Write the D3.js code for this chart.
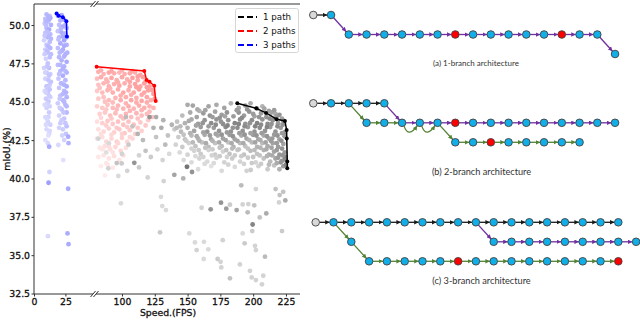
<!DOCTYPE html>
<html>
<head>
<meta charset="utf-8">
<script src="https://cdn.jsdelivr.net/npm/d3@7"></script>
<style>
  body { margin: 0; background: #fff; }
  svg { display: block; }
  .tick text { font-family: "DejaVu Sans"; font-size: 9.3px; fill: #111; stroke: #111; stroke-width: 0.3px; }
  .tick line { stroke: #333; }
</style>
</head>
<body>
<svg id="chart" width="640" height="321"></svg>
<script>
// [speed (FPS), mIoU (%), shade]
var threePaths = [
    [10,50.7,.4],[12.5,50.6,.3],[9,50.4,.35],[13,50.45,.5],[11,50.2,.3],[8.5,50.1,.25],[13.5,50.0,.45],
    [10,49.8,.4],[12,49.7,.5],[9,49.5,.3],[13,49.4,.35],[11,49.2,.45],[8,49.0,.2],[12.5,48.9,.35],
    [10,48.7,.3],[9,48.4,.25],[13,48.5,.4],[11,48.2,.3],[12.5,47.9,.35],[9.5,47.8,.2],[11,47.5,.3],
    [8,47.2,.2],[12,47.2,.35],[10,46.9,.3],[13,46.8,.25],[9,46.5,.2],[11.5,46.4,.3],[12.5,46.1,.25],
    [10,46.0,.35],[8.5,45.7,.15],[11,45.6,.3],[13,45.3,.2],[9.5,45.2,.25],[11.5,45.0,.3],[10,44.6,.2],
    [12,44.3,.25],[9,44.0,.15],[11,43.7,.2],[13,43.5,.2],[10,43.2,.15],[12,42.9,.2],[9,42.5,.1],
    [11,42.3,.15],[12.1,42.07,.5],[12.3,40.42,.2],[11.6,39.72,.6],[11.1,36.24,.15],
    [11.5,50.55,.45],[9.5,50.0,.35],[12,49.3,.4],[10.5,48.3,.35],[12,46.7,.3],[10.5,45.9,.25],
    [12.5,45.8,.3],[10.5,44.9,.2],[11.5,44.0,.2],[12.5,43.1,.15],
    [9.5,50.25,.4],[12,50.35,.45],[10.5,49.55,.35],[8.5,49.3,.3],[13.5,49.1,.4],[11.5,48.6,.4],
    [8.5,48.1,.25],[13.5,48.1,.35],[10.5,47.3,.3],[9,46.9,.2],[13.5,46.3,.3],[9.5,45.6,.2],[12,45.4,.25],
    [8.5,44.8,.15],[12.5,44.7,.2],[10,43.9,.15],[9.5,43.5,.15],[11.5,42.8,.1],
    [19,50.6,.4],[21,50.3,.45],[24,50.35,.5],[20,50.0,.35],[23,49.9,.5],[26,49.8,.45],[19,49.6,.3],
    [22,49.5,.5],[25,49.45,.45],[20,49.2,.4],[24,49.0,.55],[21,48.8,.5],[26,48.7,.45],[19,48.5,.35],
    [23,48.4,.5],[25,48.1,.45],[20,47.9,.4],[22,47.7,.45],[26,47.6,.5],[19,47.4,.35],[24,47.3,.45],
    [21,47.0,.4],[26,46.9,.45],[23,46.7,.5],[19.5,46.5,.3],[25,46.4,.4],[22,46.2,.45],[26,46.0,.5],
    [20,45.9,.3],[24,45.7,.4],[21,45.4,.35],[26,45.3,.45],[23,45.1,.4],[19,44.9,.25],[25,44.8,.4],
    [22,44.5,.35],[26,44.3,.4],[20,44.1,.2],[24,43.9,.3],[21,43.6,.25],[26,43.4,.35],[23,43.2,.25],
    [25.5,42.9,.3],[27.2,42.72,.5],[27.5,42.3,.45],[19.4,42.18,.15],[23.3,41.2,.1],[27.2,39.33,.5],
    [26.7,36.42,.5],[27.5,35.72,.5],
    [22,50.65,.5],[25,50.0,.45],[21.5,49.75,.4],[19.5,49.05,.35],[23,49.25,.5],[26,49.2,.5],[22,48.3,.45],
    [24,48.65,.5],[20.5,48.2,.4],[26.5,48.2,.45],[24,47.95,.45],[21,47.4,.4],[23,47.15,.45],[25,47.0,.4],
    [20,46.8,.35],[21.5,46.2,.4],[24,46.1,.45],[23,45.5,.4],[25.5,45.6,.45],[20.5,45.2,.3],[24,45.0,.4],
    [26,44.7,.4],[20.5,44.6,.25],[23.5,44.3,.3],[22,43.8,.25],[25,43.6,.3],[20,43.3,.2],[22.5,42.8,.2],
    [24,42.5,.2]
];

var twoPaths = [
    [82,46.95,.5],[86,46.8,.45],[90,46.9,.55],[94,46.85,.5],[98,46.9,.45],[102,46.8,.5],[106,46.85,.55],
    [110,46.9,.5],[114,46.75,.6],
    [81,46.5,.4],[84,46.6,.5],[88,46.45,.45],[92,46.55,.55],[96,46.4,.5],[100,46.6,.55],[104,46.45,.5],
    [108,46.55,.6],[112,46.4,.55],[116,46.6,.6],[118,46.3,.65],
    [82,46.1,.35],[86,46.2,.45],[90,46.0,.5],[94,46.15,.5],[98,46.05,.55],[102,46.2,.5],[106,46.0,.55],
    [110,46.15,.6],[114,46.0,.55],[117,46.2,.6],[121,46.0,.6],
    [81,45.7,.3],[85,45.6,.4],[89,45.75,.45],[93,45.6,.5],[97,45.8,.5],[101,45.6,.55],[105,45.75,.5],
    [109,45.6,.55],[113,45.8,.6],[117,45.6,.55],[120,45.75,.6],[124,45.5,.6],
    [82,45.2,.3],[86,45.3,.35],[90,45.1,.4],[95,45.25,.45],[99,45.1,.5],[103,45.3,.5],[107,45.1,.55],
    [111,45.25,.5],[115,45.05,.55],[119,45.3,.55],[122,45.1,.5],[125,45.2,.6],
    [81,44.7,.25],[85,44.6,.3],[89,44.8,.35],[93,44.6,.4],[97,44.75,.45],[101,44.55,.45],[105,44.7,.5],
    [109,44.55,.45],[113,44.75,.5],[117,44.6,.5],[121,44.7,.45],
    [83,44.2,.25],[87,44.3,.3],[91,44.1,.35],[95,44.25,.4],[99,44.05,.4],[103,44.2,.45],[107,44.0,.4],
    [111,44.25,.45],[115,44.1,.4],[119,44.2,.4],[123,44.0,.35],
    [81,43.7,.15],[85,43.6,.25],[89,43.75,.3],[93,43.55,.3],[97,43.7,.35],[101,43.5,.35],[105,43.7,.35],
    [109,43.5,.35],[114,43.65,.3],[118,43.45,.3],
    [82,43.2,.15],[86,43.05,.2],[90,43.25,.25],[94,43.0,.25],[98,43.2,.3],[102,42.95,.3],[106,43.15,.3],
    [110,42.9,.25],[115,43.1,.25],
    [81,42.6,.1],[85,42.7,.15],[88,42.4,.2],[92,42.6,.2],[96,42.4,.25],[100,42.65,.25],[104,42.4,.2],
    [108,42.6,.2],
    [83,42.0,.1],[87,42.1,.15],[91,41.9,.15],[95,42.05,.2],[99,41.8,.2],[103,42.0,.15],
    [82,41.4,.08],[86,41.5,.1],[90,41.3,.12],[94,41.45,.15],[98,41.2,.12],
    [84,40.8,.05],[89,40.9,.08],[93,40.7,.08],[87,40.2,.05],
    [84,47.05,.5],[92,47.0,.55],[100,47.05,.5],[108,47.0,.55],[112,46.65,.6],[106,46.3,.55],[97,46.25,.5],
    [89,46.3,.45],[83,45.9,.35],[91,45.85,.45],[99,45.4,.5],[107,45.45,.5],[115,45.45,.55],[111,45.95,.6],
    [119,45.95,.6],[123,45.75,.6],[87,45.0,.35],[93,44.95,.4],[103,44.9,.45],[111,44.95,.5],[119,44.95,.5],
    [124,44.6,.45],[88,44.5,.3],[96,44.5,.4],[106,44.4,.45],[115,44.45,.45],[121,44.35,.4],[84,43.95,.2],
    [92,43.9,.3],[101,43.9,.35],[112,43.9,.35],[120,43.8,.3],[88,43.45,.25],[96,43.3,.3],[104,43.35,.3],
    [112,43.3,.3],[84,42.9,.15],[92,42.85,.2],[100,42.9,.25],[106,42.7,.2],[90,42.1,.15],[97,42.3,.2],
    [85,41.9,.1],[93,41.7,.12],[101,41.5,.15],[88,41.0,.08]
];

var onePath = [
    [150,44.8,.45],[154,44.75,.5],[159,44.4,.4],[166,44.7,.5],[172,44.8,.45],[178,44.6,.5],[183,44.9,.4],
    [189,44.6,.5],[194,44.75,.55],[198,44.9,.45],[203,44.55,.5],[207,44.7,.4],[212,44.4,.5],[217,44.2,.45],
    [146,44.1,.35],[152,44.3,.45],[157,44.0,.5],[162,44.25,.55],[167,44.1,.6],[171,44.35,.5],[176,44.15,.55],
    [180,44.3,.6],[185,44.05,.55],[189,44.3,.6],[193,44.1,.55],[197,44.35,.6],[201,44.05,.5],[206,44.25,.55],
    [210,44.0,.6],[214,44.3,.5],[218,44.05,.55],[222,43.9,.5],
    [142,43.7,.3],[148,43.6,.4],[153,43.85,.45],[158,43.55,.55],[163,43.8,.6],[168,43.6,.65],[172,43.85,.6],
    [177,43.55,.65],[181,43.8,.6],[186,43.6,.7],[190,43.85,.65],[194,43.55,.6],[199,43.8,.65],[203,43.6,.7],
    [207,43.85,.6],[211,43.55,.65],[215,43.8,.6],[219,43.6,.55],[223,43.75,.6],
    [140,43.2,.25],[145,43.05,.35],[150,43.3,.4],[155,43.1,.5],[160,43.35,.55],[165,43.05,.6],[170,43.3,.55],
    [174,43.1,.6],[179,43.35,.65],[183,43.05,.6],[188,43.3,.65],[192,43.1,.6],[196,43.35,.55],[201,43.05,.6],
    [205,43.3,.65],[209,43.1,.6],[213,43.35,.55],[217,43.05,.6],[221,43.3,.55],[224,43.0,.6],
    [143,42.7,.25],[148,42.55,.3],[153,42.8,.35],[158,42.6,.4],[163,42.85,.45],[168,42.55,.5],[173,42.8,.45],
    [177,42.6,.5],[182,42.85,.55],[186,42.55,.5],[191,42.8,.45],[195,42.6,.5],[200,42.85,.55],[204,42.55,.5],
    [208,42.8,.45],[212,42.6,.5],[216,42.85,.55],[220,42.55,.5],[224,42.75,.55],
    [141,42.2,.2],[146,42.05,.25],[151,42.3,.2],[156,42.1,.3],[161,42.35,.3],[166,42.05,.35],[171,42.3,.3],
    [176,42.1,.35],[181,42.35,.3],[185,42.05,.4],[190,42.3,.35],[194,42.1,.3],[199,42.35,.35],[203,42.05,.4],
    [207,42.3,.35],[211,42.1,.45],[215,42.3,.5],[219,42.05,.55],[223,42.25,.5],
    [144,41.7,.15],[150,41.55,.2],[155,41.8,.2],[160,41.6,.25],[166,41.85,.2],[171,41.55,.25],[177,41.75,.2],
    [182,41.6,.3],[188,41.85,.25],[193,41.55,.3],[198,41.8,.35],[203,41.6,.3],[208,41.85,.4],[212,41.55,.45],
    [216,41.75,.5],[220,41.55,.6],[224,41.7,.55],
    [147,41.2,.15],[153,41.05,.15],[159,41.3,.2],[165,41.1,.15],[172,41.35,.2],[178,41.05,.2],[184,41.3,.25],
    [190,41.1,.2],[196,41.35,.25],[202,41.05,.2],[208,41.3,.3],[213,41.1,.35],[217,41.3,.5],[221,41.05,.6],
    [224,41.25,.65],
    [150,40.8,.1],[158,40.6,.15],[168,40.8,.1],[176,40.5,.15],[186,40.75,.15],[195,40.5,.2],[204,40.8,.2],
    [211,40.6,.25],[216,40.85,.3],[220,40.6,.4],[223,40.8,.55],[225,40.9,.7],[224.5,41.4,.7],
    [157.5,44.5,.45],[163.5,44.45,.5],[169,44.0,.55],[174.5,43.95,.6],[178.5,44.05,.5],[187.5,44.45,.55],
    [191.5,43.95,.65],[195.5,44.5,.6],[200,44.2,.55],[204.5,44.0,.6],[208.5,44.55,.5],[212.5,43.9,.65],
    [216,44.45,.55],[220,44.15,.6],
    [144.5,43.4,.35],[151,43.75,.45],[156.5,43.45,.5],[161.5,43.6,.6],[166,43.4,.55],[171.5,43.5,.65],
    [175.5,43.7,.6],[180.5,43.45,.7],[184.5,43.3,.6],[189,43.55,.7],[193.5,43.4,.65],[197.5,43.6,.6],
    [201.5,43.4,.7],[206,43.5,.65],[210.5,43.35,.7],[214,43.55,.6],[218.5,43.4,.65],[222.5,43.5,.6],
    [147,42.85,.3],[152,42.95,.4],[157,42.75,.45],[162,43.0,.5],[167,42.8,.55],[171.5,42.9,.5],[176,42.85,.6],
    [180,43.0,.55],[184.5,42.75,.6],[189.5,42.95,.55],[193.5,42.85,.6],[198,42.95,.5],[202.5,42.8,.6],
    [206.5,42.95,.55],[210.5,42.75,.6],[214.5,42.6,.55],[218.5,42.8,.6],[222,42.95,.55],
    [149,42.45,.25],[154,42.35,.35],[159,42.45,.4],[164,42.3,.45],[169,42.45,.4],[174,42.35,.45],[179,42.5,.5],
    [183.5,42.3,.45],[188,42.45,.5],[192.5,42.3,.45],[197,42.5,.4],[201.5,42.35,.5],[205.5,42.5,.45],
    [209.5,42.35,.5],[213.5,42.45,.55],[218,42.3,.55],[221.5,42.45,.6],
    [153,41.95,.2],[158.5,41.85,.25],[163.5,42.0,.3],[169,41.9,.25],[174.5,42.0,.3],[179.5,41.85,.3],
    [184,41.95,.35],[189,41.9,.3],[196,41.95,.3],[201,41.85,.35],[205.5,42.0,.4],[210,41.9,.45],[214,42.0,.5],
    [218,41.85,.55],[222,41.95,.6],
    [156,41.45,.15],[162,41.4,.2],[168.5,41.5,.2],[174.5,41.45,.25],[180,41.4,.2],[186,41.5,.25],[191,41.45,.25],
    [200,41.4,.3],[205,41.5,.3],[210.5,41.45,.4],[214.5,41.5,.45],[219,41.35,.55],[222.5,41.5,.6],
    [163,40.95,.15],[170,41.0,.15],[181,40.9,.2],[193,40.95,.2],[199,41.0,.25],[206,40.95,.25],[212,40.9,.35],
    [218,41.0,.45],[222,41.15,.6],
    [103,44.0,.35],[108,43.4,.3],[112,42.9,.4],[116,42.5,.35],[121,44.0,.6],[126,44.0,.45],[124,43.3,.4],
    [126,42.7,.3],[131.5,43.8,.4],[130,43.3,.45],[133,42.2,.35],[138,43.5,.4],[135,42.8,.3],[141.7,43.3,.35],
    [118,41.8,.3],[122,41.4,.25],[127,41.9,.2],[105,42.2,.25],[100,41.6,.2],[113,41.5,.2],[131,41.2,.2],
    [136,41.6,.15],[82,42.6,.2],[90,42.3,.15],[96,41.0,.3],[104,40.5,.2],[88,41.7,.12],
    [149.5,40.76,.8],[153.4,40.42,.6],[139.9,40.24,.5],[146.7,40.0,.4],[131.8,39.83,.2],[129.7,38.8,.15],
    [130.7,38.2,.15],[133.5,37.94,.15],[129,36.49,.25],[160.7,38.09,.2],[167.6,37.99,.6],[175.5,38.42,.6],
    [179.5,38.03,.55],[182.3,38.29,.25],[187.4,37.94,.5],[192,38.31,.2],[195.8,37.79,.35],[196.3,38.33,.2],
    [200.8,38.25,.3],[210,37.72,.45],[205,37.46,.3],[199.6,37.0,.7],[199.3,36.57,.25],[190.9,39.55,.35],
    [202.1,39.31,.2],[198.1,40.55,.25],[217.1,39.31,.3],[220.2,38.92,.3],[222.9,39.13,.3],[224.5,38.57,.45],
    [219.7,38.44,.2],[222,36.57,.25],[151.3,36.42,.15],[155.6,35.83,.15],[156.9,35.33,.2],[162.5,35.87,.15],
    [165.8,35.38,.15],[176.8,35.98,.2],[172.9,34.75,.25],[175.2,34.57,.2],[162.3,34.75,.15],[175.7,34.2,.2],
    [182.3,33.49,.3],[193.5,35.77,.25],[201.4,35.61,.2],[202.1,35.33,.2],[209,34.9,.35],[189.9,34.4,.2],
    [197.6,33.98,.2],[198.9,33.55,.2],[202.1,33.38,.2],[207.7,33.66,.2],[206.7,33.1,.2],[192,36.42,.15],
    [89.6,40.66,.2],[97.2,40.16,.15],[99.8,40.98,.25],[109.4,41.02,.6],[113,40.72,.25],[119.6,40.07,.2],
    [99.2,38.38,.15]
];

var front1 = [[187.9,44.9],[202.4,44.57],[209.8,44.27],[217.9,43.86],[224.2,43.75],[225.5,43.16],[225.6,42.6],[226,41.1],[226,40.66]];
var front2 = [[80.7,47.28],[117,47.0],[118.8,46.41],[121,46.3],[124.6,46.04],[125.7,45.05]];
var front3 = [[18,50.75],[19.5,50.6],[23,50.5],[25.8,50.25],[26.2,49.25]];

var xTicksLeft = [0, 25];
var xTicksRight = [100, 125, 150, 175, 200, 225];
var yTicks = [32.5, 35, 37.5, 40, 42.5, 45, 47.5, 50];
var legendLabels = ['1 path', '2 paths', '3 paths'];
var seriesColors = ['#000000', '#ff0000', '#0000ff'];

// architecture diagrams: [column, row] per node
var aBlack = [[0,0],[1,0]];
var aPurple = [[1,0],[2,1],[3,1],[4,1],[5,1],[6,1],[7,1],[8,1],[9,1],[10,1],[11,1],[12,1],[13,1],[14,1],[15,1],[16,1],[17,2]];
var aRed = [[8,1],[14,1]];
var bBlack = [[0,0],[1,0],[2,0],[3,0],[4,0]];
var bPurple = [[4,0],[5,1],[6,1],[7,1],[8,1],[9,1],[10,1],[11,1],[12,1],[13,1],[14,1],[15,1],[16,1],[17,1]];
var bGreen = [[2,0],[3,1],[4,1],[5,1],[6,1],[7,1],[8,2],[9,2],[10,2],[11,2],[12,2],[13,2],[14,2],[15,2]];
var bRed = [[8,1],[10,2]];
var cBlack = [[0,0],[1,0],[2,0],[3,0],[4,0],[5,0],[6,0],[7,0],[8,0],[9,0],[10,0],[11,0],[12,0],[13,0],[14,0],[15,0],[16,0],[17,0]];
var cPurple = [[9,0],[10,1],[11,1],[12,1],[13,1],[14,1],[15,1],[16,1],[17,1],[18,1]];
var cGreen = [[1,0],[2,1],[3,2],[4,2],[5,2],[6,2],[7,2],[8,2],[9,2],[10,2],[11,2],[12,2],[13,2],[14,2],[15,2],[16,2],[17,2]];
var cRed = [[8,2],[17,2]];
var captions = ['(a) 1-branch architecture', '(b) 2-branch architecture', '(c) 3-branch architecture'];
var edgeColors = {black: '#1a1a1a', purple: '#7030a0', green: '#548235'};

var svg = d3.select('#chart');

var y = d3.scaleLinear().domain([32.47, 51.37]).range([294, 4]);
var xL = d3.scaleLinear().domain([0, 47]).range([34, 93]);
var xR = d3.scaleLinear().domain([80.2, 235.7]).range([96, 300]);
function xPos(v) { return v < 60 ? xL(v) : xR(v); }

var shadeColor = [
    d3.interpolateRgb('#f2f2f2', '#555555'),
    d3.interpolateRgb('#fff2f2', '#ff6a6a'),
    d3.interpolateRgb('#ececff', '#6a6aff')
];

function dots(data, k) {
    svg.append('g').selectAll('circle')
        .data(data)
        .enter().append('circle')
        .attr('cx', function(d) { return xPos(d[0]); })
        .attr('cy', function(d) { return y(d[1]); })
        .attr('r', 2.4)
        .style('fill', function(d) { return shadeColor[k](d[2]); });
}
dots(threePaths, 2);
dots(twoPaths, 1);
dots(onePath, 0);

var line = d3.line().x(function(d) { return xPos(d[0]); }).y(function(d) { return y(d[1]); });
[front1, front2, front3].forEach(function(f, k) {
    var g = svg.append('g');
    g.append('path').attr('d', line(f))
        .style('fill', 'none').style('stroke', seriesColors[k]).style('stroke-width', 1.5);
    g.selectAll('circle').data(f).enter().append('circle')
        .attr('cx', function(d) { return xPos(d[0]); })
        .attr('cy', function(d) { return y(d[1]); })
        .attr('r', 2)
        .style('fill', seriesColors[k]);
});

// axes
var xAxisG = svg.append('g').attr('transform', 'translate(0,294)');
xAxisG.append('g').call(d3.axisBottom(xL).tickValues(xTicksLeft).tickSize(2.5).tickPadding(2));
xAxisG.append('g').call(d3.axisBottom(xR).tickValues(xTicksRight).tickSize(2.5).tickPadding(2));
svg.append('g').attr('transform', 'translate(34,0)')
    .call(d3.axisLeft(y).tickValues(yTicks).tickFormat(d3.format('.1f')).tickSize(2.5).tickPadding(1.5));
svg.selectAll('.domain').remove();

var spines = [[34, 4, 34, 294], [34, 4, 93, 4], [96, 4, 300, 4], [34, 294, 93, 294], [96, 294, 300, 294]];
svg.append('g').selectAll('line').data(spines).enter().append('line')
    .attr('x1', function(d) { return d[0]; }).attr('y1', function(d) { return d[1]; })
    .attr('x2', function(d) { return d[2]; }).attr('y2', function(d) { return d[3]; })
    .style('stroke', '#333').style('stroke-width', 1);

[4, 294].forEach(function(yy) {
    [93, 96].forEach(function(xx) {
        svg.append('line')
            .attr('x1', xx - 2.5).attr('y1', yy + 3)
            .attr('x2', xx + 2.5).attr('y2', yy - 3)
            .style('stroke', '#333').style('stroke-width', 1);
    });
});

svg.append('text')
    .attr('x', 168).attr('y', 316)
    .attr('text-anchor', 'middle')
    .style('font-family', 'DejaVu Sans').style('font-size', '9.3px').style('fill', '#111')
    .style('stroke', '#111').style('stroke-width', 0.3)
    .text('Speed.(FPS)');
svg.append('text')
    .attr('transform', 'translate(9.5,149) rotate(-90)')
    .attr('text-anchor', 'middle')
    .style('font-family', 'DejaVu Sans').style('font-size', '9.3px').style('fill', '#111')
    .style('stroke', '#111').style('stroke-width', 0.3)
    .text('mIoU.(%)');

// legend
var legend = svg.append('g');
legend.append('rect')
    .attr('x', 235.5).attr('y', 8.5).attr('width', 63).attr('height', 44).attr('rx', 2)
    .style('fill', '#fff').style('stroke', '#d6d6d6');
legendLabels.forEach(function(lab, i) {
    var ly = 17 + 14 * i;
    legend.append('line')
        .attr('x1', 238).attr('x2', 257).attr('y1', ly).attr('y2', ly)
        .style('stroke', seriesColors[i]).style('stroke-width', 1.8).style('stroke-dasharray', '6,3');
    legend.append('text')
        .attr('x', 263).attr('y', ly).attr('dy', '0.35em')
        .style('font-family', 'DejaVu Sans').style('font-size', '8.7px').style('fill', '#111')
        .text(lab);
});

// diagrams
var defs = svg.append('defs');
Object.keys(edgeColors).forEach(function(k) {
    defs.append('marker')
        .attr('id', 'arrow-' + k)
        .attr('viewBox', '0 -3 6 6')
        .attr('refX', 6).attr('refY', 0)
        .attr('markerWidth', 4.5).attr('markerHeight', 4.5)
        .attr('markerUnits', 'userSpaceOnUse')
        .attr('orient', 'auto')
        .append('path').attr('d', 'M0,-3L6,0L0,3Z').style('fill', edgeColors[k]);
});

var panels = [
    {x0: 313.3, dx: 17.75, y0: 15, paths: [[aBlack, 'black'], [aPurple, 'purple']], red: aRed, ty: 66, fs: 8},
    {x0: 313.3, dx: 17.75, y0: 103.3, paths: [[bBlack, 'black'], [bPurple, 'purple'], [bGreen, 'green']], red: bRed, ty: 175, fs: 9.2},
    {x0: 315.7, dx: 17.8, y0: 222.3, paths: [[cBlack, 'black'], [cPurple, 'purple'], [cGreen, 'green']], red: cRed, ty: 284, fs: 9.2}
];

var nodeR = 3.8;
panels.forEach(function(p, pi) {
    var col = d3.scaleLinear().domain([0, 1]).range([p.x0, p.x0 + p.dx]);
    var row = d3.scaleLinear().domain([0, 1]).range([p.y0, p.y0 + 19.5]);
    var g = svg.append('g');
    var used = {};
    var nodes = {};

    p.paths.forEach(function(pp) {
        var list = pp[0], c = edgeColors[pp[1]];
        list.forEach(function(n) { nodes[n.join()] = n; });
        for (var i = 1; i < list.length; i++) {
            var s = list[i - 1], t = list[i];
            var key = s.join() + '-' + t.join();
            var x1 = col(s[0]), y1 = row(s[1]), x2 = col(t[0]), y2 = row(t[1]);
            if (used[key]) {
                g.append('path')
                    .attr('d', 'M' + (x1 + 2) + ',' + (y1 + 3.3) +
                        ' C' + (x1 + 5) + ',' + (y1 + 12) + ' ' + (x2 - 8) + ',' + (y2 + 11) + ' ' + (x2 - 2.6) + ',' + (y2 + 2.9))
                    .style('fill', 'none').style('stroke', c).style('stroke-width', 1.3)
                    .attr('marker-end', 'url(#arrow-' + pp[1] + ')');
            } else {
                var a = Math.atan2(y2 - y1, x2 - x1);
                g.append('line')
                    .attr('x1', x1 + nodeR * Math.cos(a)).attr('y1', y1 + nodeR * Math.sin(a))
                    .attr('x2', x2 - nodeR * Math.cos(a)).attr('y2', y2 - nodeR * Math.sin(a))
                    .style('stroke', c).style('stroke-width', 1.3)
                    .attr('marker-end', 'url(#arrow-' + pp[1] + ')');
            }
            used[key] = true;
        }
    });

    var redKeys = p.red.map(function(n) { return n.join(); });
    g.selectAll('circle').data(Object.values(nodes)).enter().append('circle')
        .attr('cx', function(d) { return col(d[0]); })
        .attr('cy', function(d) { return row(d[1]); })
        .attr('r', nodeR)
        .style('fill', function(d) {
            if (d[0] === 0 && d[1] === 0) return '#d9d9d9';
            return redKeys.indexOf(d.join()) >= 0 ? '#ff0000' : '#12aee8';
        })
        .style('stroke', '#404040').style('stroke-width', 0.9);

    g.append('text')
        .attr('x', pi === 0 ? 476 : 481.5).attr('y', p.ty)
        .attr('text-anchor', 'middle')
        .style('font-family', 'Lato').style('font-size', p.fs + 'px').style('fill', '#333')
        .text(captions[pi]);
});
</script>
</body>
</html>
